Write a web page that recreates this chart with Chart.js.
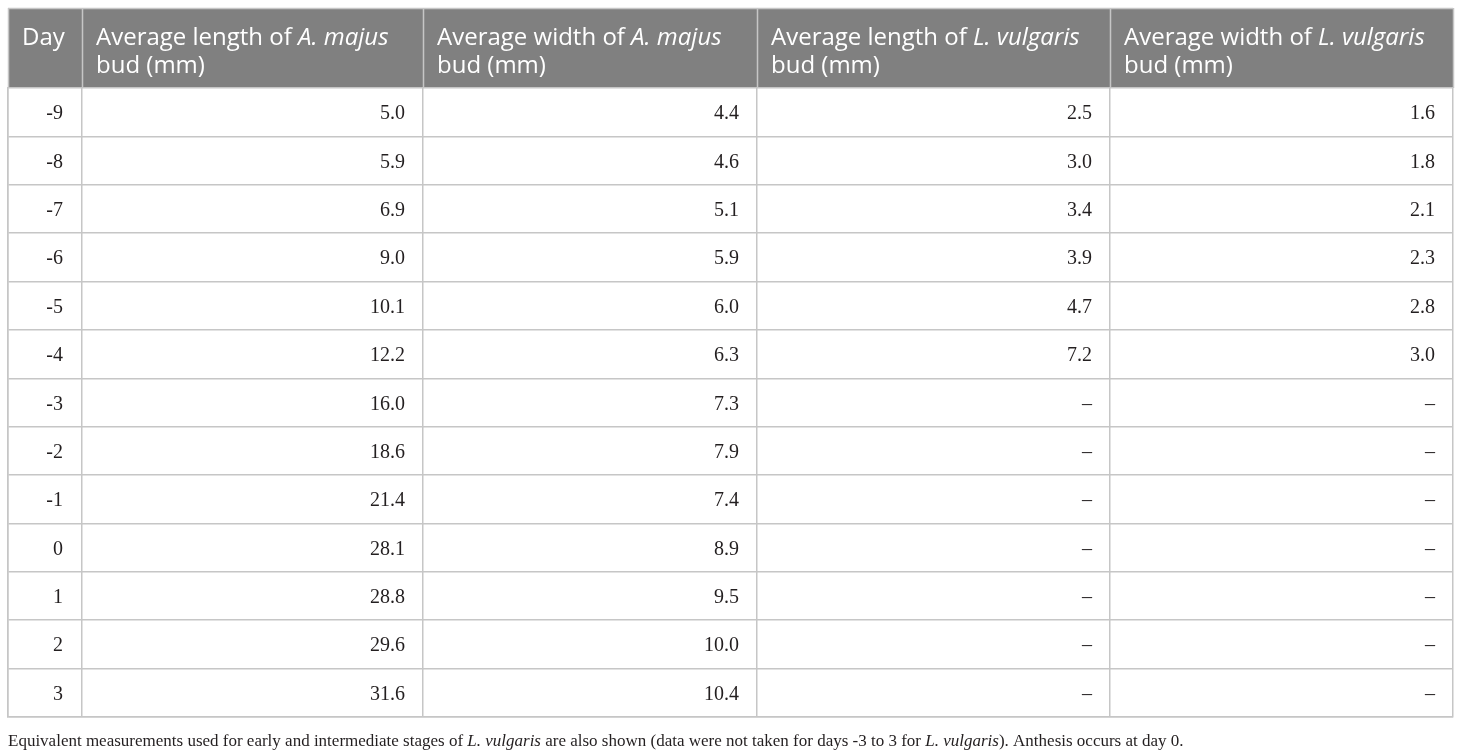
<!DOCTYPE html>
<html>
<head>
<meta charset="utf-8">
<script src="https://cdn.jsdelivr.net/npm/chart.js@4"></script>
<style>
  html, body { margin: 0; padding: 0; background: #fff; }
  #wrap { width: 1460px; height: 754px; position: relative; }
</style>
</head>
<body>
<div id="wrap"><canvas id="budTable"></canvas></div>
<script>
// table data
var days = ['-9', '-8', '-7', '-6', '-5', '-4', '-3', '-2', '-1', '0', '1', '2', '3'];
var amajusLength = [5.0, 5.9, 6.9, 9.0, 10.1, 12.2, 16.0, 18.6, 21.4, 28.1, 28.8, 29.6, 31.6];
var amajusWidth = [4.4, 4.6, 5.1, 5.9, 6.0, 6.3, 7.3, 7.9, 7.4, 8.9, 9.5, 10.0, 10.4];
var lvulgarisLength = [2.5, 3.0, 3.4, 3.9, 4.7, 7.2, null, null, null, null, null, null, null];
var lvulgarisWidth = [1.6, 1.8, 2.1, 2.3, 2.8, 3.0, null, null, null, null, null, null, null];

// header text, [text, italic] pieces per line
var headers = [
    [[['Day', false]]],
    [[['Average length of ', false], ['A. majus', true]], [['bud (mm)', false]]],
    [[['Average width of ', false], ['A. majus', true]], [['bud (mm)', false]]],
    [[['Average length of ', false], ['L. vulgaris', true]], [['bud (mm)', false]]],
    [[['Average width of ', false], ['L. vulgaris', true]], [['bud (mm)', false]]]
];
var footnote = [
    ['Equivalent measurements used for early and intermediate stages of ', false],
    ['L. vulgaris', true],
    [' are also shown (data were not taken for days -3 to 3 for ', false],
    ['L. vulgaris', true],
    ['). Anthesis occurs at day 0.', false]
];

// column edges on the x scale (table units)
var colEdges = [0, 74, 415, 749, 1102, 1445];
var columns = [amajusLength, amajusWidth, lvulgarisLength, lvulgarisWidth];

var gridColor = '#c6c6c6';
var headFill = '#808080';
var sansFont = '"Open Sans", "Noto Sans", sans-serif';
var serifFont = '"Liberation Serif", "DejaVu Serif", serif';

function drawPieces(ctx, pieces, x, y, size, family) {
    pieces.forEach(function (p) {
        ctx.font = (p[1] ? 'italic ' : '') + size + 'px ' + family;
        ctx.fillText(p[0], x, y);
        x += ctx.measureText(p[0]).width;
    });
}

var tablePlugin = {
    id: 'tablePlugin',
    beforeDraw: function (chart) {
        var ctx = chart.ctx;
        var xs = chart.scales.x;
        var area = chart.chartArea;
        var top = area.top - 80;
        ctx.save();
        ctx.fillStyle = headFill;
        ctx.fillRect(area.left, top, area.right - area.left, area.top - top);
        ctx.strokeStyle = gridColor;
        ctx.lineWidth = 1.5;
        ctx.beginPath();
        ctx.moveTo(area.left, top + 0.5);
        ctx.lineTo(area.right, top + 0.5);
        colEdges.forEach(function (e) {
            var px = Math.round(xs.getPixelForValue(e)) + 0.5;
            ctx.moveTo(px, top);
            ctx.lineTo(px, area.top);
        });
        ctx.stroke();
        ctx.restore();
    },
    afterDraw: function (chart) {
        var ctx = chart.ctx;
        var xs = chart.scales.x;
        var ys = chart.scales.y;
        var area = chart.chartArea;
        var top = area.top - 80;
        ctx.save();
        // header
        ctx.fillStyle = '#ffffff';
        ctx.textBaseline = 'alphabetic';
        ctx.textAlign = 'left';
        headers.forEach(function (lines, c) {
            var x = xs.getPixelForValue(colEdges[c]) + 14;
            lines.forEach(function (pieces, l) {
                drawPieces(ctx, pieces, x, top + 37 + l * 28, 24, sansFont);
            });
        });
        // body
        ctx.fillStyle = '#231f20';
        ctx.font = '20px ' + serifFont;
        ctx.textAlign = 'right';
        days.forEach(function (d, r) {
            var y = ys.getPixelForValue(r) + 7;
            ctx.fillText(d, xs.getPixelForValue(colEdges[1]) - 19, y);
            columns.forEach(function (col, c) {
                var v = col[r];
                var txt = v === null ? '\u2013' : v.toFixed(1);
                ctx.fillText(txt, xs.getPixelForValue(colEdges[c + 2]) - 18, y);
            });
        });
        // footnote
        ctx.textAlign = 'left';
        drawPieces(ctx, footnote, area.left, area.bottom + 29, 17, serifFont);
        ctx.restore();
    }
};

new Chart('budTable', {
    type: 'scatter',
    data: {
        labels: days,
        datasets: [{ data: [] }]
    },
    plugins: [tablePlugin],
    options: {
        responsive: true,
        maintainAspectRatio: false,
        animation: false,
        events: [],
        layout: {
            padding: { left: 8, right: 7, top: 88, bottom: 37 }
        },
        plugins: {
            legend: { display: false },
            tooltip: { enabled: false }
        },
        scales: {
            x: {
                type: 'linear',
                min: colEdges[0],
                max: colEdges[colEdges.length - 1],
                afterBuildTicks: function (scale) {
                    scale.ticks = colEdges.map(function (e) { return { value: e }; });
                },
                ticks: { display: false },
                grid: { color: gridColor, drawTicks: false, lineWidth: 1.5 },
                border: { display: true, color: gridColor, width: 1.5 }
            },
            y: {
                type: 'category',
                labels: days,
                offset: true,
                ticks: { display: false },
                grid: { offset: true, color: gridColor, drawTicks: false, lineWidth: 1.5 },
                border: { display: true, color: gridColor, width: 1.5 }
            }
        }
    }
});
</script>
</body>
</html>
